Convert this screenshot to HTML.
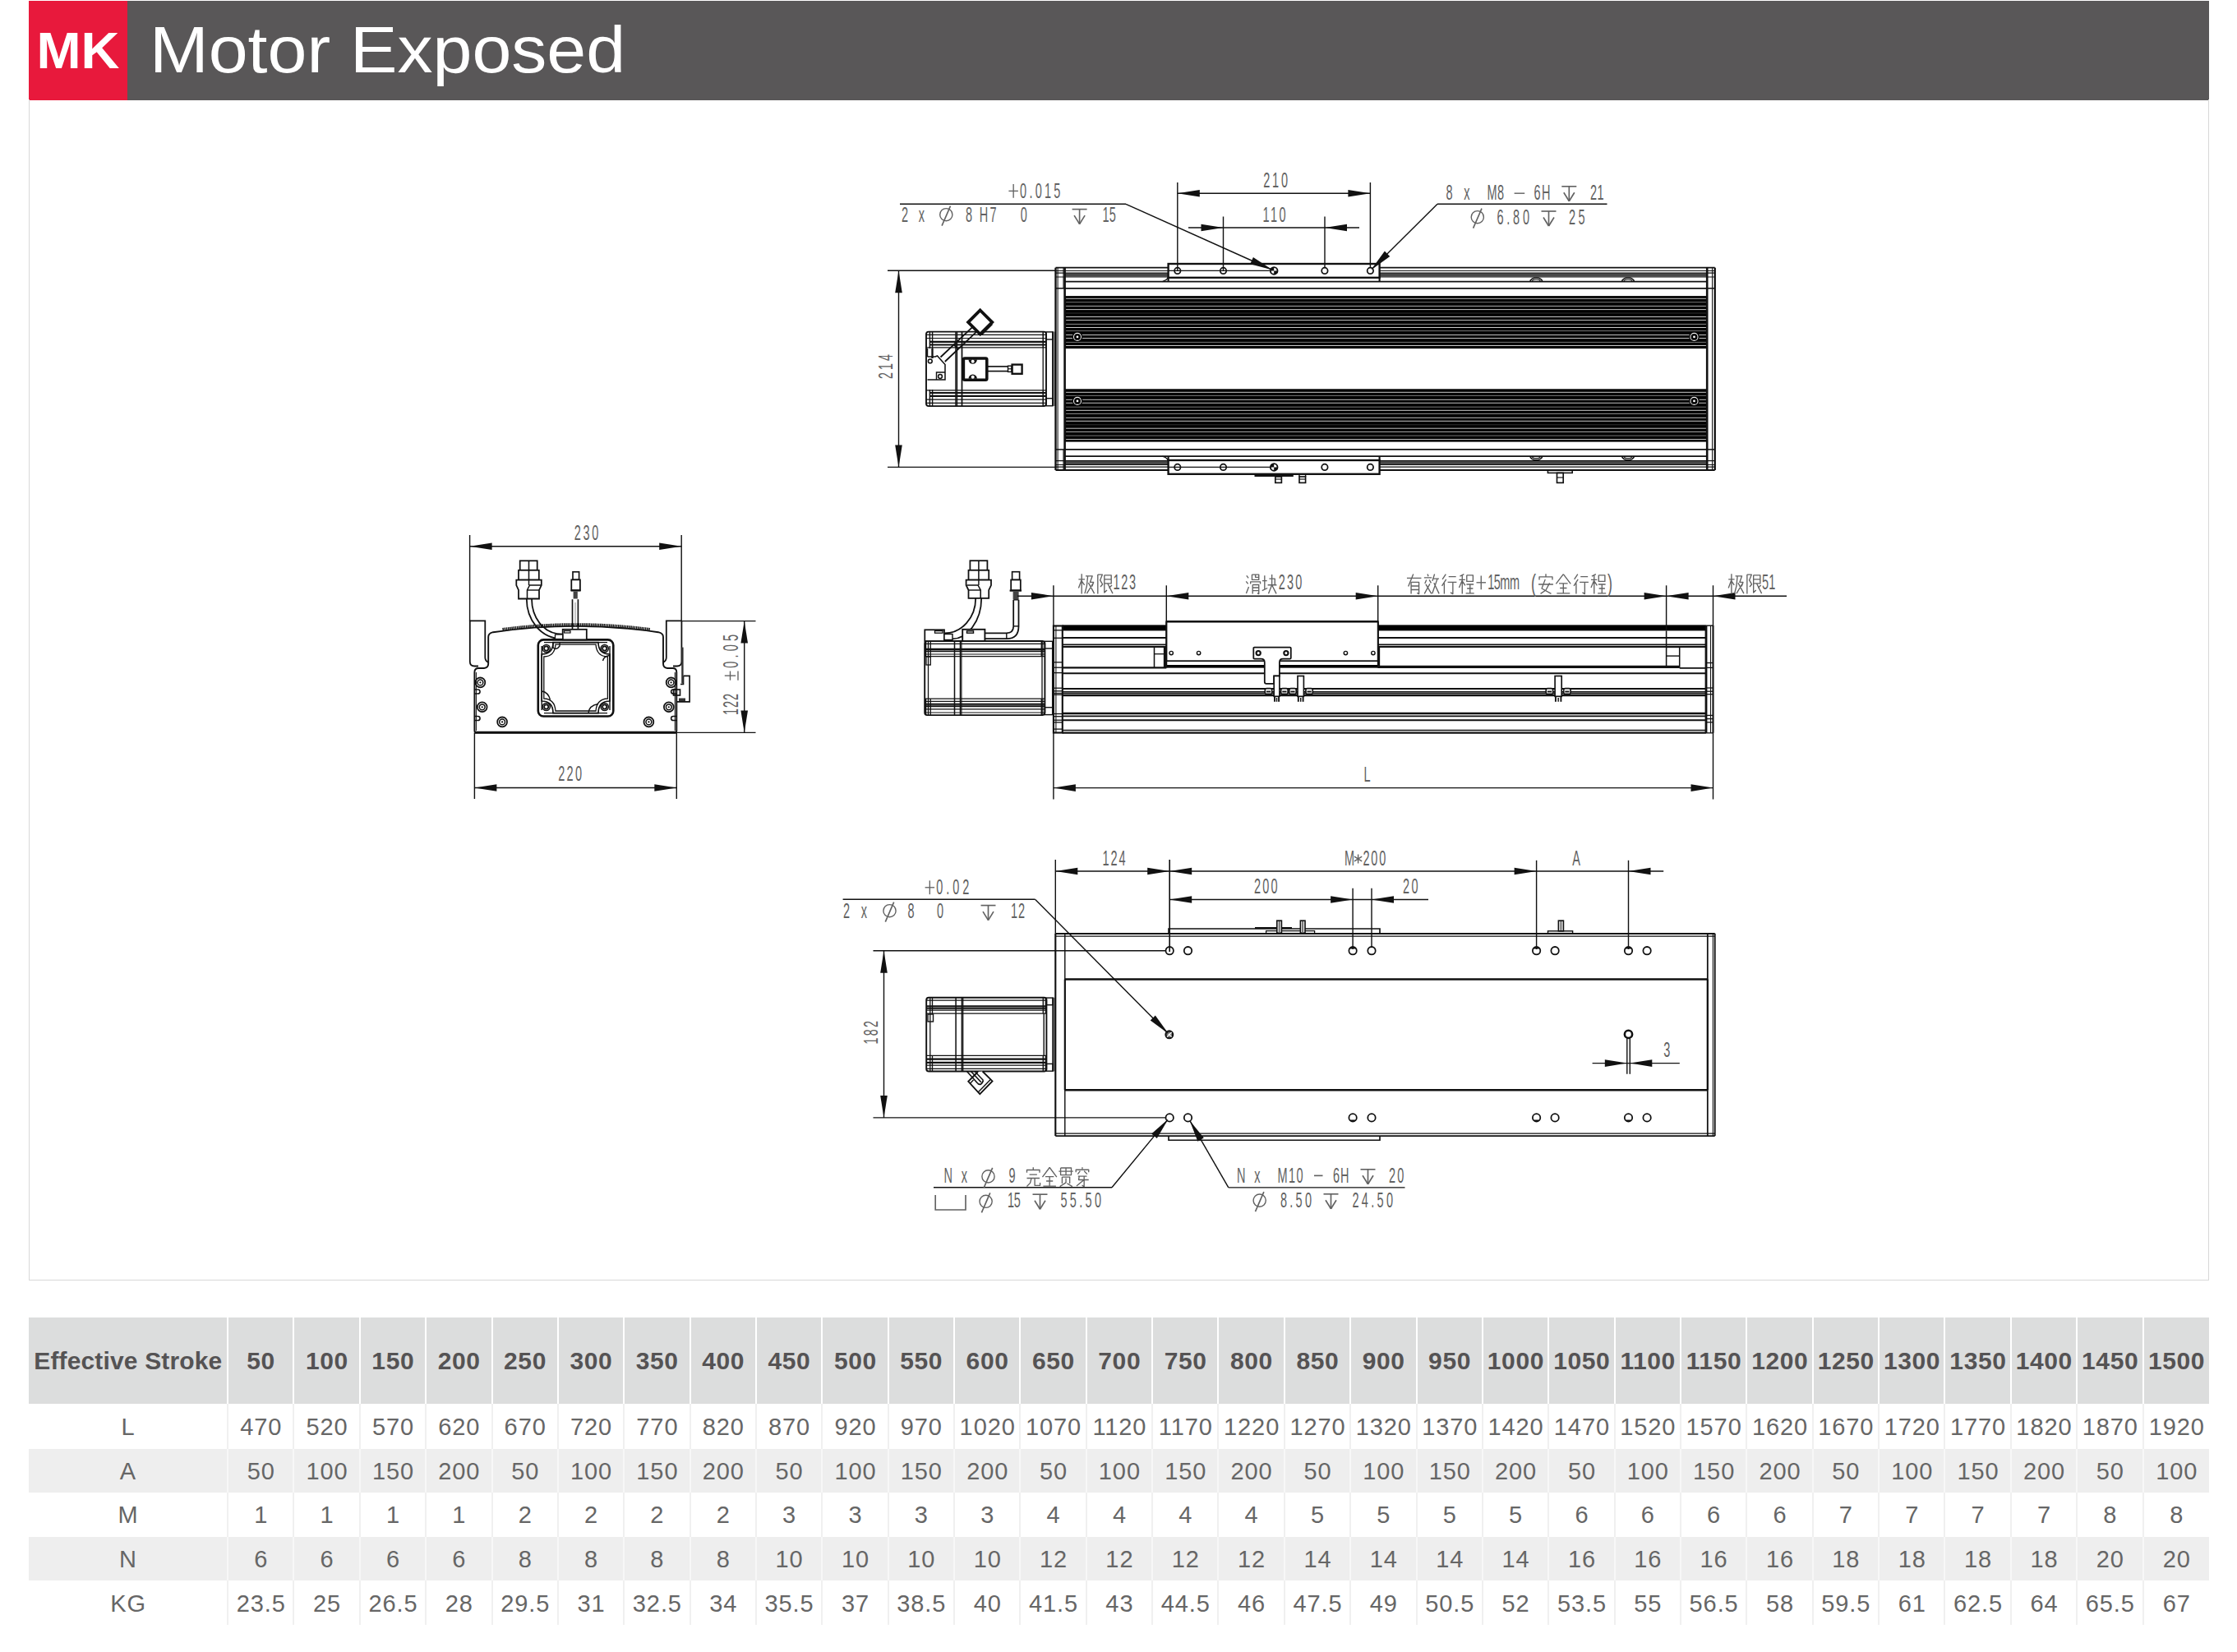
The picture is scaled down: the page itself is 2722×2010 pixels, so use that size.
<!DOCTYPE html>
<html><head><meta charset="utf-8"><title>MK Motor Exposed</title>
<style>
html,body{margin:0;padding:0;background:#fff;}
body{width:2722px;height:2010px;position:relative;overflow:hidden;font-family:"Liberation Sans",sans-serif;}
#hdr{position:absolute;left:35px;top:1px;width:2653px;height:120.6px;background:#595758;}
#mk{position:absolute;left:0;top:0;width:120px;height:120.6px;background:#e8193c;color:#fff;font-weight:bold;font-size:63px;line-height:121px;text-align:center;}
#mk span{display:inline-block;transform:scaleX(1.03);}
#ttl{position:absolute;left:147px;top:0;color:#fff;font-size:79px;line-height:119px;white-space:nowrap;transform:scaleX(1.09);transform-origin:0 0;}
#frame{position:absolute;left:35px;top:121px;width:2651px;height:1436px;border:1px solid #d8d8d8;border-top:none;}
#dwg{position:absolute;left:0;top:0;}
#dwg text{font-family:"Liberation Sans",sans-serif;}
table{position:absolute;left:35px;top:1603px;width:2653px;border-collapse:collapse;table-layout:fixed;}
th,td{padding:0;text-align:center;white-space:nowrap;overflow:visible;border-left:2px solid #fff;}
th{background:#dcdddd;color:#555354;font-size:30px;font-weight:bold;letter-spacing:0.6px;padding:2px 0 0 0.6px;height:102.5px;}
td{height:52.5px;color:#666;font-size:29px;border-left-color:#f0f0f0;letter-spacing:0.9px;padding:2px 0 0 0.9px;}
tr.r0 td{height:53.5px;}
tr.r1 td{height:51.2px;}
tr.r2 td,tr.r3 td{height:51.5px;}
tr.r4 td{height:52px;}
tr.r1 td,tr.r3 td{background:#eeeeee;border-left-color:#f7f7f7;}
th.f,td.f{width:240.5px;border-left:none;}
th.f{letter-spacing:0.15px;}
</style></head><body>
<div id="hdr"><div id="mk"><span>MK</span></div><div id="ttl">Motor Exposed</div></div>
<div id="frame"></div>
<svg id="dwg" width="2722" height="2010" viewBox="0 0 2722 2010">
<rect x="1295.6" y="360.1" width="781.6" height="64" fill="#000"/>
<rect x="1295.6" y="473.3" width="781.6" height="64.3" fill="#000"/>
<path d="M1297.1 363.3L2076.2 363.3" stroke="#e6e6e6" stroke-width="0.85"/>
<path d="M1297.1 534.5L2076.2 534.5" stroke="#e6e6e6" stroke-width="0.85"/>
<path d="M1297.1 367.7L2076.2 367.7" stroke="#8c8c8c" stroke-width="0.85"/>
<path d="M1297.1 530.1L2076.2 530.1" stroke="#8c8c8c" stroke-width="0.85"/>
<path d="M1297.1 372.4L2076.2 372.4" stroke="#cfcfcf" stroke-width="0.85"/>
<path d="M1297.1 525.4L2076.2 525.4" stroke="#cfcfcf" stroke-width="0.85"/>
<path d="M1297.1 376.6L2076.2 376.6" stroke="#e6e6e6" stroke-width="0.85"/>
<path d="M1297.1 521.2L2076.2 521.2" stroke="#e6e6e6" stroke-width="0.85"/>
<path d="M1297.1 381L2076.2 381" stroke="#3a3a3a" stroke-width="0.85"/>
<path d="M1297.1 516.8L2076.2 516.8" stroke="#3a3a3a" stroke-width="0.85"/>
<path d="M1297.1 385.5L2076.2 385.5" stroke="#f0f0f0" stroke-width="0.85"/>
<path d="M1297.1 512.3L2076.2 512.3" stroke="#f0f0f0" stroke-width="0.85"/>
<path d="M1297.1 389.5L2076.2 389.5" stroke="#e0e0e0" stroke-width="0.85"/>
<path d="M1297.1 508.3L2076.2 508.3" stroke="#e0e0e0" stroke-width="0.85"/>
<path d="M1297.1 394.4L2076.2 394.4" stroke="#a8a8a8" stroke-width="0.85"/>
<path d="M1297.1 503.4L2076.2 503.4" stroke="#a8a8a8" stroke-width="0.85"/>
<path d="M1297.1 398.5L2076.2 398.5" stroke="#f0f0f0" stroke-width="0.85"/>
<path d="M1297.1 499.3L2076.2 499.3" stroke="#f0f0f0" stroke-width="0.85"/>
<path d="M1297.1 402.6L2076.2 402.6" stroke="#8c8c8c" stroke-width="0.85"/>
<path d="M1297.1 495.2L2076.2 495.2" stroke="#8c8c8c" stroke-width="0.85"/>
<path d="M1297.1 407.5L2076.2 407.5" stroke="#e6e6e6" stroke-width="0.85"/>
<path d="M1297.1 490.3L2076.2 490.3" stroke="#e6e6e6" stroke-width="0.85"/>
<path d="M1297.1 411.5L2076.2 411.5" stroke="#e6e6e6" stroke-width="0.85"/>
<path d="M1297.1 486.3L2076.2 486.3" stroke="#e6e6e6" stroke-width="0.85"/>
<path d="M1297.1 416.4L2076.2 416.4" stroke="#8c8c8c" stroke-width="0.85"/>
<path d="M1297.1 481.4L2076.2 481.4" stroke="#8c8c8c" stroke-width="0.85"/>
<path d="M1297.1 420.5L2076.2 420.5" stroke="#f0f0f0" stroke-width="0.85"/>
<path d="M1297.1 477.3L2076.2 477.3" stroke="#f0f0f0" stroke-width="0.85"/>
<circle cx="1311" cy="409.9" r="6.3" fill="#000" stroke="none" stroke-width="0"/>
<circle cx="1311" cy="409.9" r="4.5" fill="#000" stroke="#f2f2f2" stroke-width="1.06"/>
<circle cx="1311" cy="409.9" r="1.4" fill="#fff" stroke="none" stroke-width="0"/>
<circle cx="1311" cy="487.9" r="6.3" fill="#000" stroke="none" stroke-width="0"/>
<circle cx="1311" cy="487.9" r="4.5" fill="#000" stroke="#f2f2f2" stroke-width="1.06"/>
<circle cx="1311" cy="487.9" r="1.4" fill="#fff" stroke="none" stroke-width="0"/>
<circle cx="2061.5" cy="409.9" r="6.3" fill="#000" stroke="none" stroke-width="0"/>
<circle cx="2061.5" cy="409.9" r="4.5" fill="#000" stroke="#f2f2f2" stroke-width="1.06"/>
<circle cx="2061.5" cy="409.9" r="1.4" fill="#fff" stroke="none" stroke-width="0"/>
<circle cx="2061.5" cy="487.9" r="6.3" fill="#000" stroke="none" stroke-width="0"/>
<circle cx="2061.5" cy="487.9" r="4.5" fill="#000" stroke="#f2f2f2" stroke-width="1.06"/>
<circle cx="2061.5" cy="487.9" r="1.4" fill="#fff" stroke="none" stroke-width="0"/>
<path d="M1284.5 325.7L2086.7 325.7" stroke="#111" stroke-width="1.77"/>
<path d="M1284.5 572L2086.7 572" stroke="#111" stroke-width="1.77"/>
<rect x="1295.6" y="332.4" width="125.4" height="4.2" fill="#484848"/>
<rect x="1678.6" y="332.4" width="398.6" height="4.2" fill="#484848"/>
<rect x="1295.6" y="561.1" width="125.4" height="4.2" fill="#484848"/>
<rect x="1678.6" y="561.1" width="398.6" height="4.2" fill="#484848"/>
<path d="M1284.5 329.5L1421 329.5" stroke="#111" stroke-width="1.18"/>
<path d="M1678.6 329.5L2086.7 329.5" stroke="#111" stroke-width="1.18"/>
<path d="M1284.5 568.2L1421 568.2" stroke="#111" stroke-width="1.18"/>
<path d="M1678.6 568.2L2086.7 568.2" stroke="#111" stroke-width="1.18"/>
<path d="M1284.5 332.2L1421 332.2" stroke="#111" stroke-width="1.18"/>
<path d="M1678.6 332.2L2086.7 332.2" stroke="#111" stroke-width="1.18"/>
<path d="M1284.5 565.5L1421 565.5" stroke="#111" stroke-width="1.18"/>
<path d="M1678.6 565.5L2086.7 565.5" stroke="#111" stroke-width="1.18"/>
<path d="M1284.5 337L1421 337" stroke="#111" stroke-width="1.18"/>
<path d="M1678.6 337L2086.7 337" stroke="#111" stroke-width="1.18"/>
<path d="M1284.5 560.7L1421 560.7" stroke="#111" stroke-width="1.18"/>
<path d="M1678.6 560.7L2086.7 560.7" stroke="#111" stroke-width="1.18"/>
<path d="M1295.6 342.6L2077.2 342.6" stroke="#111" stroke-width="1.77"/>
<path d="M1295.6 555.1L2077.2 555.1" stroke="#111" stroke-width="1.77"/>
<path d="M1295.6 350.8L2077.2 350.8" stroke="#111" stroke-width="1.77"/>
<path d="M1295.6 546.9L2077.2 546.9" stroke="#111" stroke-width="1.77"/>
<path d="M1284.5 350.8L1295.6 350.8" stroke="#111" stroke-width="1.53"/>
<path d="M1284.5 546.9L1295.6 546.9" stroke="#111" stroke-width="1.53"/>
<path d="M2077.2 350.8L2086.7 350.8" stroke="#111" stroke-width="1.53"/>
<path d="M2077.2 546.9L2086.7 546.9" stroke="#111" stroke-width="1.53"/>
<path d="M1284.5 325.7L1284.5 572" stroke="#111" stroke-width="2.36"/>
<path d="M1287.1 325.7L1287.1 572" stroke="#111" stroke-width="1.06"/>
<path d="M1294 325.7L1294 351" stroke="#111" stroke-width="1.06"/>
<path d="M1294 547L1294 572" stroke="#111" stroke-width="1.06"/>
<path d="M1295.6 325.7L1295.6 572" stroke="#111" stroke-width="2.6"/>
<path d="M2086.7 325.7L2086.7 572" stroke="#111" stroke-width="2.36"/>
<path d="M2083.5 325.7L2083.5 572" stroke="#111" stroke-width="1.06"/>
<path d="M2077.2 325.7L2077.2 572" stroke="#111" stroke-width="2.6"/>
<path d="M1861.9 342.6A7.4 4.6 0 0 1 1876.7 342.6" fill="none" stroke="#111" stroke-width="1.65" />
<path d="M1864.3 342.6A5 2.6 0 0 1 1874.3 342.6" fill="none" stroke="#111" stroke-width="1.18" />
<path d="M1861.9 555.1A7.4 4.6 0 0 0 1876.7 555.1" fill="none" stroke="#111" stroke-width="1.65" />
<path d="M1864.3 555.1A5 2.6 0 0 0 1874.3 555.1" fill="none" stroke="#111" stroke-width="1.18" />
<path d="M1973.6 342.6A7.4 4.6 0 0 1 1988.4 342.6" fill="none" stroke="#111" stroke-width="1.65" />
<path d="M1976 342.6A5 2.6 0 0 1 1986 342.6" fill="none" stroke="#111" stroke-width="1.18" />
<path d="M1973.6 555.1A7.4 4.6 0 0 0 1988.4 555.1" fill="none" stroke="#111" stroke-width="1.65" />
<path d="M1976 555.1A5 2.6 0 0 0 1986 555.1" fill="none" stroke="#111" stroke-width="1.18" />
<path d="M1414.5 342.6Q1419 341.5 1421.4 338.2" fill="none" stroke="#111" stroke-width="1.42" />
<path d="M1414.5 555.1Q1419 556.2 1421.4 559.5" fill="none" stroke="#111" stroke-width="1.42" />
<rect x="1421.6" y="321" width="257" height="16.8" rx="0" fill="#fff" stroke="#111" stroke-width="2.36"/>
<rect x="1421.6" y="560" width="257" height="16.8" rx="0" fill="#fff" stroke="#111" stroke-width="2.36"/>
<path d="M1421.6 337L1421.6 342.6" stroke="#111" stroke-width="2.12"/>
<path d="M1678.6 337L1678.6 342.6" stroke="#111" stroke-width="2.12"/>
<path d="M1421.6 555.1L1421.6 561" stroke="#111" stroke-width="2.12"/>
<path d="M1678.6 555.1L1678.6 561" stroke="#111" stroke-width="2.12"/>
<path d="M1421.6 329.4L1546 329.4" stroke="#111" stroke-width="1.18"/>
<path d="M1421.6 568.4L1546 568.4" stroke="#111" stroke-width="1.18"/>
<circle cx="1432.8" cy="329.4" r="3.7" fill="none" stroke="#111" stroke-width="1.77"/>
<circle cx="1432.8" cy="568.4" r="3.7" fill="none" stroke="#111" stroke-width="1.77"/>
<circle cx="1488.5" cy="329.4" r="3.7" fill="none" stroke="#111" stroke-width="1.77"/>
<circle cx="1488.5" cy="568.4" r="3.7" fill="none" stroke="#111" stroke-width="1.77"/>
<circle cx="1611.9" cy="329.4" r="3.7" fill="none" stroke="#111" stroke-width="1.77"/>
<circle cx="1611.9" cy="568.4" r="3.7" fill="none" stroke="#111" stroke-width="1.77"/>
<circle cx="1667.4" cy="329.4" r="3.7" fill="none" stroke="#111" stroke-width="1.77"/>
<circle cx="1667.4" cy="568.4" r="3.7" fill="none" stroke="#111" stroke-width="1.77"/>
<circle cx="1550.2" cy="329.4" r="4.3" fill="#fff" stroke="#111" stroke-width="1.89"/>
<path d="M1550.2 329.4L1550.2 325.1A4.3 4.3 0 0 0 1545.9 329.4Z" fill="#111" stroke="none" stroke-width="0" />
<path d="M1550.2 329.4L1550.2 333.7A4.3 4.3 0 0 0 1554.5 329.4Z" fill="#111" stroke="none" stroke-width="0" />
<circle cx="1550.2" cy="568.4" r="4.3" fill="#fff" stroke="#111" stroke-width="1.89"/>
<path d="M1550.2 568.4L1550.2 564.1A4.3 4.3 0 0 0 1545.9 568.4Z" fill="#111" stroke="none" stroke-width="0" />
<path d="M1550.2 568.4L1550.2 572.7A4.3 4.3 0 0 0 1554.5 568.4Z" fill="#111" stroke="none" stroke-width="0" />
<path d="M1526.5 578.6L1573.8 578.6" stroke="#111" stroke-width="2.6"/>
<rect x="1551.8" y="580" width="7.6" height="7.4" rx="0" fill="none" stroke="#111" stroke-width="1.65"/>
<path d="M1551.8 583L1559.4 583" stroke="#111" stroke-width="1.18"/>
<rect x="1581" y="580" width="7.6" height="7.4" rx="0" fill="none" stroke="#111" stroke-width="1.65"/>
<path d="M1581 583L1588.6 583" stroke="#111" stroke-width="1.18"/>
<path d="M1581 577L1581 580" stroke="#111" stroke-width="1.42"/>
<path d="M1588.6 577L1588.6 580" stroke="#111" stroke-width="1.42"/>
<rect x="1883.4" y="572.4" width="29.8" height="3" rx="0" fill="none" stroke="#111" stroke-width="1.53"/>
<rect x="1894.5" y="575.4" width="7.7" height="12" rx="0" fill="none" stroke="#111" stroke-width="1.65"/>
<path d="M1894.5 581L1902.2 581" stroke="#111" stroke-width="1.18"/>
<rect x="1127" y="403.6" width="146" height="90.5" rx="3" fill="none" stroke="#111" stroke-width="1.89"/>
<path d="M1127 407.3L1273 407.3" stroke="#111" stroke-width="1.18"/>
<path d="M1127 490.4L1273 490.4" stroke="#111" stroke-width="1.18"/>
<path d="M1127 411.5L1273 411.5" stroke="#111" stroke-width="1.18"/>
<path d="M1127 486.2L1273 486.2" stroke="#111" stroke-width="1.18"/>
<path d="M1127 422.8L1273 422.8" stroke="#111" stroke-width="1.18"/>
<path d="M1127 474.9L1273 474.9" stroke="#111" stroke-width="1.18"/>
<path d="M1131 415.9L1273 415.9" stroke="#111" stroke-width="2.24"/>
<path d="M1131 419.6L1273 419.6" stroke="#111" stroke-width="2.01"/>
<path d="M1131 481.8L1273 481.8" stroke="#111" stroke-width="2.24"/>
<path d="M1131 478.1L1273 478.1" stroke="#111" stroke-width="2.01"/>
<path d="M1131.4 403.6L1131.4 424" stroke="#111" stroke-width="1.42"/>
<path d="M1131.4 474L1131.4 494.1" stroke="#111" stroke-width="1.42"/>
<path d="M1134.6 403.6L1134.6 424" stroke="#111" stroke-width="1.42"/>
<path d="M1134.6 474L1134.6 494.1" stroke="#111" stroke-width="1.42"/>
<path d="M1163 403.6L1163 494.1" stroke="#111" stroke-width="1.53"/>
<path d="M1164.6 403.6L1164.6 494.1" stroke="#111" stroke-width="1.18"/>
<path d="M1170.5 403.6L1170.5 494.1" stroke="#111" stroke-width="1.77"/>
<path d="M1269.2 403.6L1269.2 423" stroke="#111" stroke-width="1.53"/>
<path d="M1269.2 475L1269.2 494.1" stroke="#111" stroke-width="1.53"/>
<path d="M1269.2 423L1269.2 475" stroke="#111" stroke-width="1.3"/>
<rect x="1273" y="403.9" width="8" height="9.1" rx="0" fill="none" stroke="#111" stroke-width="1.42"/>
<rect x="1273" y="484.7" width="8" height="9.1" rx="0" fill="none" stroke="#111" stroke-width="1.42"/>
<path d="M1281 403.6L1281 494.1" stroke="#111" stroke-width="1.89"/>
<path d="M1283.2 403.6L1283.2 494.1" stroke="#111" stroke-width="1.18"/>
<path d="M1128.5 434L1138 434L1140.5 433L1150 443.5L1150 462L1128.5 462" fill="#fff" stroke="#111" stroke-width="1.53" />
<path d="M1128.5 424L1128.5 434" stroke="#111" stroke-width="1.42"/>
<path d="M1134.5 424L1134.5 436" stroke="#111" stroke-width="2.36"/>
<circle cx="1131.8" cy="439.4" r="2.4" fill="none" stroke="#111" stroke-width="1.53"/>
<circle cx="1144" cy="458" r="2.4" fill="none" stroke="#111" stroke-width="1.53"/>
<path d="M1139.5 462L1139.5 453L1150 453" fill="none" stroke="#111" stroke-width="1.42" />
<path d="M1144.5 434.5L1183.4 397.8" stroke="#111" stroke-width="1.77"/>
<path d="M1149.8 440L1188.8 403.2" stroke="#111" stroke-width="1.77"/>
<path d="M1160.5 419.4L1165.9 424.8" stroke="#111" stroke-width="1.53"/>
<path d="M1192.7 377.5L1207.3 392.1L1192.7 406.7L1178.1 392.1Z" fill="#fff" stroke="#111" stroke-width="3.78" />
<path d="M1207.5 394.5L1194.5 407.5" stroke="#111" stroke-width="1.42"/>
<rect x="1172.4" y="436" width="28.4" height="26.3" rx="1.5" fill="#fff" stroke="#111" stroke-width="3.54"/>
<path d="M1178.5 437.5A5.2 5.2 0 0 0 1188.9 437.5Z" fill="#111" stroke="none" stroke-width="0" />
<circle cx="1183.7" cy="439.8" r="2" fill="#fff" stroke="none" stroke-width="0"/>
<path d="M1178.5 460.8A5.2 5.2 0 0 1 1188.9 460.8Z" fill="#111" stroke="none" stroke-width="0" />
<circle cx="1183.7" cy="458.8" r="2" fill="#fff" stroke="none" stroke-width="0"/>
<path d="M1202 445.9L1226.5 445.9" stroke="#111" stroke-width="1.65"/>
<path d="M1202 451.6L1226.5 451.6" stroke="#111" stroke-width="1.65"/>
<rect x="1226.5" y="445.2" width="4.5" height="7.2" rx="0" fill="none" stroke="#111" stroke-width="1.42"/>
<path d="M1226.5 448.8L1231 448.8" stroke="#111" stroke-width="1.18"/>
<rect x="1231.6" y="443.6" width="12" height="11.2" rx="0" fill="none" stroke="#111" stroke-width="2.36"/>
<path d="M1080 329.2L1284.5 329.2" stroke="#111" stroke-width="1.42"/>
<path d="M1080 568.4L1284.5 568.4" stroke="#111" stroke-width="1.42"/>
<path d="M1093.5 329.2L1093.5 568.4" stroke="#111" stroke-width="1.42"/>
<path d="M1093.5 329.2L1097.8 356.2L1089.2 356.2Z" fill="#111"/>
<path d="M1093.5 568.4L1089.2 541.4L1097.8 541.4Z" fill="#111"/>
<text transform="translate(1085.6 461) rotate(-90) scale(0.58 1)" font-size="24.5" fill="#626262" textLength="51.72" lengthAdjust="spacing">214</text>
<path d="M1432.8 222L1432.8 329.4" stroke="#111" stroke-width="1.42"/>
<path d="M1667.4 222L1667.4 325.5" stroke="#111" stroke-width="1.42"/>
<path d="M1432.8 235.2L1667.4 235.2" stroke="#111" stroke-width="1.42"/>
<path d="M1432.8 235.2L1459.8 230.9L1459.8 239.5Z" fill="#111"/>
<path d="M1667.4 235.2L1640.4 239.5L1640.4 230.9Z" fill="#111"/>
<text transform="translate(1537.3 227.8) scale(0.58 1)" font-size="25" fill="#626262" textLength="51.21" lengthAdjust="spacing">210</text>
<path d="M1488.5 263.5L1488.5 329.4" stroke="#111" stroke-width="1.42"/>
<path d="M1612 263.5L1612 325.5" stroke="#111" stroke-width="1.42"/>
<path d="M1446 277L1654 277" stroke="#111" stroke-width="1.42"/>
<path d="M1488.5 277L1461.5 281.3L1461.5 272.7Z" fill="#111"/>
<path d="M1612 277L1639 272.7L1639 281.3Z" fill="#111"/>
<text transform="translate(1536.5 269.5) scale(0.58 1)" font-size="25" fill="#626262" textLength="48.28" lengthAdjust="spacing">110</text>
<path d="M1095 248.3L1370 248.3" stroke="#111" stroke-width="1.42"/>
<path d="M1370 248.3L1546.5 327.6" stroke="#111" stroke-width="1.42"/>
<path d="M1548.6 328.6L1521.22 321.23L1524.91 313.02Z" fill="#111"/>
<path d="M1227.4 232.4L1238.9 232.4" stroke="#626262" stroke-width="1.36"/>
<path d="M1233.15 224L1233.15 240.8" stroke="#626262" stroke-width="1.36"/>
<text transform="translate(1241.1 241) scale(0.58 1)" font-size="25" fill="#626262" textLength="85" lengthAdjust="spacing">0.015</text>
<text transform="translate(1097 270.2) scale(0.58 1)" font-size="25" fill="#626262" textLength="48.28" lengthAdjust="spacing">2 x</text>
<circle cx="1151.3" cy="261.2" r="7.6" fill="none" stroke="#626262" stroke-width="1.4"/>
<path d="M1146.1 274.7L1156.5 250.7" stroke="#626262" stroke-width="1.65"/>
<text transform="translate(1175 270.2) scale(0.58 1)" font-size="25" fill="#626262" textLength="64.83" lengthAdjust="spacing">8 H7</text>
<text transform="translate(1241.7 270.2) scale(0.58 1)" font-size="25" fill="#626262">0</text>
<path d="M1304.6 254.6L1322.6 254.6" stroke="#626262" stroke-width="1.65"/>
<path d="M1313.6 254.6L1313.6 272.6" stroke="#626262" stroke-width="1.65"/>
<path d="M1307.1 262.1L1313.6 272.6" stroke="#626262" stroke-width="1.65"/>
<path d="M1320.1 262.1L1313.6 272.6" stroke="#626262" stroke-width="1.65"/>
<text transform="translate(1341.5 270.2) scale(0.58 1)" font-size="25" fill="#626262" textLength="28.1" lengthAdjust="spacing">15</text>
<path d="M1749 248.3L1955.5 248.3" stroke="#111" stroke-width="1.42"/>
<path d="M1749 248.3L1669.5 327.2" stroke="#111" stroke-width="1.42"/>
<path d="M1668.2 328.5L1684.9 305.58L1691.24 311.96Z" fill="#111"/>
<text transform="translate(1759.6 242.5) scale(0.58 1)" font-size="25" fill="#626262" textLength="49.83" lengthAdjust="spacing">8 x</text>
<text transform="translate(1809.5 242.5) scale(0.58 1)" font-size="25" fill="#626262" textLength="35.34" lengthAdjust="spacing">M8</text>
<path d="M1842.6 235.2L1855.2 235.2" stroke="#626262" stroke-width="1.42"/>
<text transform="translate(1866.5 242.5) scale(0.58 1)" font-size="25" fill="#626262" textLength="34.48" lengthAdjust="spacing">6H</text>
<path d="M1900.3 226.8L1918.3 226.8" stroke="#626262" stroke-width="1.65"/>
<path d="M1909.3 226.8L1909.3 244.8" stroke="#626262" stroke-width="1.65"/>
<path d="M1902.8 234.3L1909.3 244.8" stroke="#626262" stroke-width="1.65"/>
<path d="M1915.8 234.3L1909.3 244.8" stroke="#626262" stroke-width="1.65"/>
<text transform="translate(1935 242.5) scale(0.58 1)" font-size="25" fill="#626262" textLength="28.45" lengthAdjust="spacing">21</text>
<circle cx="1797.8" cy="264.2" r="7.6" fill="none" stroke="#626262" stroke-width="1.4"/>
<path d="M1792.6 277.7L1803 253.7" stroke="#626262" stroke-width="1.65"/>
<text transform="translate(1821.5 272.6) scale(0.58 1)" font-size="25" fill="#626262" textLength="68.1" lengthAdjust="spacing">6.80</text>
<path d="M1875.5 257L1893.5 257" stroke="#626262" stroke-width="1.65"/>
<path d="M1884.5 257L1884.5 275" stroke="#626262" stroke-width="1.65"/>
<path d="M1878 264.5L1884.5 275" stroke="#626262" stroke-width="1.65"/>
<path d="M1891 264.5L1884.5 275" stroke="#626262" stroke-width="1.65"/>
<text transform="translate(1909 272.6) scale(0.58 1)" font-size="25" fill="#626262" textLength="33.62" lengthAdjust="spacing">25</text>
<rect x="1292.5" y="760.4" width="126.8" height="7" fill="#000"/>
<rect x="1676.8" y="760.4" width="399.2" height="7" fill="#000"/>
<path d="M1292.5 775.9L1419.3 775.9" stroke="#111" stroke-width="2.01"/>
<path d="M1676.8 775.9L2076 775.9" stroke="#111" stroke-width="2.01"/>
<path d="M1292.5 784.3L1419.3 784.3" stroke="#111" stroke-width="1.65"/>
<path d="M1676.8 784.3L2076 784.3" stroke="#111" stroke-width="1.65"/>
<path d="M1292.5 786.9L1419.3 786.9" stroke="#111" stroke-width="2.01"/>
<path d="M1676.8 786.9L2076 786.9" stroke="#111" stroke-width="2.01"/>
<path d="M1292.5 812.4L1419.3 812.4" stroke="#111" stroke-width="2.36"/>
<path d="M1676.8 811.4L2043.7 811.4" stroke="#111" stroke-width="3.07"/>
<path d="M2043.7 812.8L2076 812.8" stroke="#111" stroke-width="1.77"/>
<path d="M1292.5 819.2L2076 819.2" stroke="#111" stroke-width="2.01"/>
<path d="M1292.5 838L2076 838" stroke="#111" stroke-width="2.12"/>
<path d="M1292.5 841.7L2076 841.7" stroke="#111" stroke-width="1.53"/>
<path d="M1292.5 843.6L2076 843.6" stroke="#111" stroke-width="1.53"/>
<path d="M1292.5 846L2076 846" stroke="#111" stroke-width="2.71"/>
<path d="M1292.5 868L2076 868" stroke="#111" stroke-width="2.71"/>
<path d="M1292.5 871.4L2076 871.4" stroke="#111" stroke-width="1.65"/>
<path d="M1292.5 876.3L2076 876.3" stroke="#111" stroke-width="1.89"/>
<path d="M1292.5 888.5L2076 888.5" stroke="#111" stroke-width="1.65"/>
<path d="M1292.5 891.6L2076 891.6" stroke="#111" stroke-width="2.36"/>
<rect x="1281.9" y="761.5" width="10.9" height="130" rx="0" fill="none" stroke="#111" stroke-width="2.12"/>
<path d="M1284.9 761.5L1284.9 891.5" stroke="#111" stroke-width="1.06"/>
<path d="M1281.9 766.8L1292.5 766.8" stroke="#111" stroke-width="1.3"/>
<path d="M1281.9 776.3L1292.5 776.3" stroke="#111" stroke-width="1.3"/>
<path d="M1281.9 805.8L1292.5 805.8" stroke="#111" stroke-width="1.3"/>
<path d="M1281.9 812.2L1292.5 812.2" stroke="#111" stroke-width="1.3"/>
<path d="M1281.9 818.6L1292.5 818.6" stroke="#111" stroke-width="1.3"/>
<path d="M1281.9 837.2L1292.5 837.2" stroke="#111" stroke-width="1.3"/>
<path d="M1281.9 840.8L1292.5 840.8" stroke="#111" stroke-width="1.3"/>
<path d="M1281.9 843.5L1292.5 843.5" stroke="#111" stroke-width="1.3"/>
<path d="M1281.9 845.3L1292.5 845.3" stroke="#111" stroke-width="1.3"/>
<path d="M1281.9 868.5L1292.5 868.5" stroke="#111" stroke-width="1.3"/>
<path d="M1281.9 871.7L1292.5 871.7" stroke="#111" stroke-width="1.3"/>
<path d="M1281.9 876.2L1292.5 876.2" stroke="#111" stroke-width="1.3"/>
<path d="M1281.9 878.9L1292.5 878.9" stroke="#111" stroke-width="1.3"/>
<path d="M1281.9 887.1L1292.5 887.1" stroke="#111" stroke-width="1.3"/>
<path d="M2076 761L2076 891.8" stroke="#111" stroke-width="2.83"/>
<path d="M2084.5 761L2084.5 891.8" stroke="#111" stroke-width="1.89"/>
<path d="M2081.5 761L2081.5 891.8" stroke="#111" stroke-width="1.06"/>
<path d="M2076 761.2L2084.5 761.2" stroke="#111" stroke-width="1.42"/>
<path d="M2076 806.5L2084.5 806.5" stroke="#111" stroke-width="1.3"/>
<path d="M2076 812.4L2084.5 812.4" stroke="#111" stroke-width="1.3"/>
<path d="M2076 837L2084.5 837" stroke="#111" stroke-width="1.3"/>
<path d="M2076 841.2L2084.5 841.2" stroke="#111" stroke-width="1.3"/>
<path d="M2076 844.7L2084.5 844.7" stroke="#111" stroke-width="1.3"/>
<path d="M2076 870.4L2084.5 870.4" stroke="#111" stroke-width="1.3"/>
<path d="M2076 874.6L2084.5 874.6" stroke="#111" stroke-width="1.3"/>
<path d="M2076 878.8L2084.5 878.8" stroke="#111" stroke-width="1.3"/>
<path d="M2076 891.8L2084.5 891.8" stroke="#111" stroke-width="1.3"/>
<path d="M1404.5 787.4L1404.5 812.4" stroke="#111" stroke-width="1.53"/>
<path d="M1416.6 787.4L1416.6 812.4" stroke="#111" stroke-width="1.53"/>
<path d="M1404.5 795.7L1416.6 795.7" stroke="#111" stroke-width="1.3"/>
<path d="M2027.6 767.4L2027.6 812.4" stroke="#111" stroke-width="1.53"/>
<path d="M2043.7 787.4L2043.7 812.4" stroke="#111" stroke-width="1.53"/>
<path d="M2027.6 787.4L2043.7 787.4" stroke="#111" stroke-width="1.53"/>
<path d="M2027.6 798.1L2043.7 798.1" stroke="#111" stroke-width="1.42"/>
<rect x="1419.3" y="756.2" width="257.5" height="48" rx="0" fill="#fff" stroke="#111" stroke-width="1.77"/>
<path d="M1419.3 756.2L1676.8 756.2" stroke="#111" stroke-width="2.6"/>
<rect x="1419.3" y="809" width="257.5" height="3.6" fill="#000"/>
<path d="M1419.3 756.2L1419.3 786" stroke="#111" stroke-width="1.89"/>
<path d="M1676.8 756.2L1676.8 786" stroke="#111" stroke-width="1.89"/>
<path d="M1418.6 786L1418.6 812.6" stroke="#111" stroke-width="3.3"/>
<path d="M1677.5 786L1677.5 812.6" stroke="#111" stroke-width="3.3"/>
<circle cx="1425.2" cy="794.6" r="2.2" fill="none" stroke="#111" stroke-width="1.42"/>
<circle cx="1458.6" cy="794.6" r="2.2" fill="none" stroke="#111" stroke-width="1.42"/>
<circle cx="1637.4" cy="794.6" r="2.2" fill="none" stroke="#111" stroke-width="1.42"/>
<circle cx="1670.9" cy="794.6" r="2.2" fill="none" stroke="#111" stroke-width="1.42"/>
<path d="M1526.4 787.6H1569.7Q1570.8 787.6 1570.8 788.8V800.5Q1570.8 801.7 1569.6 801.7H1561Q1556.9 801.7 1556.9 806V822.5H1550.2V831.9H1541Q1538.8 831.9 1538.8 829.8V806Q1538.8 801.7 1534.5 801.7H1526.5Q1525.3 801.7 1525.3 800.5V788.8Q1525.3 787.6 1526.4 787.6Z" fill="#fff" stroke="#111" stroke-width="1.77" />
<circle cx="1531.2" cy="794.6" r="2.6" fill="none" stroke="#111" stroke-width="2.12"/>
<circle cx="1564.9" cy="794.6" r="2.6" fill="none" stroke="#111" stroke-width="2.12"/>
<rect x="1550.2" y="822.5" width="6.7" height="24.8" rx="0" fill="#fff" stroke="#111" stroke-width="1.65"/>
<path d="M1551 847.3L1551 853.8" stroke="#111" stroke-width="1.89"/>
<path d="M1556.1 847.3L1556.1 853.8" stroke="#111" stroke-width="1.89"/>
<path d="M1553.55 849L1553.55 853.8" stroke="#111" stroke-width="1.42"/>
<rect x="1579" y="822.5" width="7.4" height="24.8" rx="0" fill="#fff" stroke="#111" stroke-width="1.65"/>
<path d="M1579.8 847.3L1579.8 853.8" stroke="#111" stroke-width="1.89"/>
<path d="M1585.6 847.3L1585.6 853.8" stroke="#111" stroke-width="1.89"/>
<path d="M1582.7 849L1582.7 853.8" stroke="#111" stroke-width="1.42"/>
<rect x="1892.1" y="822.5" width="8.1" height="24.8" rx="0" fill="#fff" stroke="#111" stroke-width="1.65"/>
<path d="M1892.9 847.3L1892.9 853.8" stroke="#111" stroke-width="1.89"/>
<path d="M1899.4 847.3L1899.4 853.8" stroke="#111" stroke-width="1.89"/>
<path d="M1896.15 849L1896.15 853.8" stroke="#111" stroke-width="1.42"/>
<rect x="1539.3" y="837.6" width="8.4" height="6.8" rx="2" fill="#fff" stroke="#111" stroke-width="1.65"/>
<path d="M1540.9 841.5L1546.1 841.5" stroke="#111" stroke-width="1.89"/>
<rect x="1558.7" y="837.6" width="8.4" height="6.8" rx="2" fill="#fff" stroke="#111" stroke-width="1.65"/>
<path d="M1560.3 841.5L1565.5 841.5" stroke="#111" stroke-width="1.89"/>
<rect x="1568.8" y="837.6" width="8.4" height="6.8" rx="2" fill="#fff" stroke="#111" stroke-width="1.65"/>
<path d="M1570.4 841.5L1575.6 841.5" stroke="#111" stroke-width="1.89"/>
<rect x="1588.9" y="837.6" width="8.4" height="6.8" rx="2" fill="#fff" stroke="#111" stroke-width="1.65"/>
<path d="M1590.5 841.5L1595.7 841.5" stroke="#111" stroke-width="1.89"/>
<rect x="1881.2" y="837.6" width="8.4" height="6.8" rx="2" fill="#fff" stroke="#111" stroke-width="1.65"/>
<path d="M1882.8 841.5L1888 841.5" stroke="#111" stroke-width="1.89"/>
<rect x="1902.7" y="837.6" width="8.4" height="6.8" rx="2" fill="#fff" stroke="#111" stroke-width="1.65"/>
<path d="M1904.3 841.5L1909.5 841.5" stroke="#111" stroke-width="1.89"/>
<rect x="1125.2" y="780" width="146.2" height="90.1" rx="3" fill="none" stroke="#111" stroke-width="1.89"/>
<path d="M1126 783.4L1271.4 783.4" stroke="#111" stroke-width="1.18"/>
<path d="M1126 789.9L1271.4 789.9" stroke="#111" stroke-width="2.12"/>
<path d="M1126 792.4L1271.4 792.4" stroke="#111" stroke-width="1.89"/>
<path d="M1126 796L1271.4 796" stroke="#111" stroke-width="1.18"/>
<path d="M1126 798.7L1271.4 798.7" stroke="#111" stroke-width="1.18"/>
<path d="M1126 850.2L1271.4 850.2" stroke="#111" stroke-width="1.18"/>
<path d="M1126 853.4L1271.4 853.4" stroke="#111" stroke-width="1.18"/>
<path d="M1126 856.7L1271.4 856.7" stroke="#111" stroke-width="2.12"/>
<path d="M1126 859.2L1271.4 859.2" stroke="#111" stroke-width="1.89"/>
<path d="M1126 862.8L1271.4 862.8" stroke="#111" stroke-width="1.18"/>
<path d="M1126 867L1271.4 867" stroke="#111" stroke-width="1.18"/>
<path d="M1126.6 780L1126.6 799" stroke="#111" stroke-width="1.3"/>
<path d="M1126.6 850L1126.6 870" stroke="#111" stroke-width="1.3"/>
<path d="M1129.5 780L1129.5 799" stroke="#111" stroke-width="1.3"/>
<path d="M1129.5 850L1129.5 870" stroke="#111" stroke-width="1.3"/>
<path d="M1132.3 780L1132.3 799" stroke="#111" stroke-width="1.3"/>
<path d="M1132.3 850L1132.3 870" stroke="#111" stroke-width="1.3"/>
<path d="M1129.5 799L1129.5 850" stroke="#111" stroke-width="1.3"/>
<rect x="1127" y="799" width="5.3" height="10" rx="0" fill="none" stroke="#111" stroke-width="1.3"/>
<path d="M1161.5 780L1161.5 870.1" stroke="#111" stroke-width="1.53"/>
<path d="M1168.5 780L1168.5 870.1" stroke="#111" stroke-width="1.53"/>
<path d="M1169.9 780L1169.9 870.1" stroke="#111" stroke-width="1.18"/>
<path d="M1267.3 780L1267.3 799" stroke="#111" stroke-width="1.42"/>
<path d="M1268.8 780L1268.8 799" stroke="#111" stroke-width="1.18"/>
<path d="M1267.3 850L1267.3 870" stroke="#111" stroke-width="1.42"/>
<path d="M1268.8 850L1268.8 870" stroke="#111" stroke-width="1.18"/>
<path d="M1268 799L1268 850" stroke="#111" stroke-width="1.3"/>
<rect x="1271.4" y="780.3" width="9.5" height="8.7" rx="0" fill="none" stroke="#111" stroke-width="1.42"/>
<rect x="1271.4" y="860.7" width="9.5" height="8.9" rx="0" fill="none" stroke="#111" stroke-width="1.42"/>
<path d="M1280.9 780L1280.9 870" stroke="#111" stroke-width="1.89"/>
<path d="M1187.2 727.8C1187.2 752 1170 770.4 1149.5 770.4" fill="none" stroke="#111" stroke-width="1.77" />
<path d="M1194.2 727.8C1194.2 757 1176 777.3 1159 777.3" fill="none" stroke="#111" stroke-width="1.77" />
<rect x="1125.3" y="766.3" width="23.7" height="13.7" rx="0" fill="#fff" stroke="#111" stroke-width="1.77"/>
<rect x="1137.5" y="767.6" width="9.5" height="2.6" rx="0" fill="none" stroke="#111" stroke-width="1.3"/>
<rect x="1149" y="771.5" width="10" height="7" rx="0" fill="#fff" stroke="#111" stroke-width="1.42"/>
<rect x="1171.2" y="765.8" width="27.2" height="14.2" rx="0" fill="#fff" stroke="#111" stroke-width="1.89"/>
<rect x="1176.5" y="767.8" width="8" height="2.4" rx="0" fill="none" stroke="#111" stroke-width="1.42"/>
<rect x="1180.4" y="682.2" width="21" height="11.6" rx="0" fill="#fff" stroke="#111" stroke-width="1.77"/>
<path d="M1190.9 682.2L1190.9 693.8" stroke="#111" stroke-width="1.53"/>
<rect x="1178.5" y="693.8" width="24.7" height="11.8" rx="0" fill="#fff" stroke="#111" stroke-width="1.77"/>
<path d="M1190.9 693.8L1190.9 705.6" stroke="#111" stroke-width="1.53"/>
<path d="M1175.6 705.6L1206 705.6L1206 712L1203.2 718L1203.2 727.8L1178.5 727.8L1178.5 718L1175.6 712Z" fill="#fff" stroke="#111" stroke-width="1.77" />
<path d="M1176.5 712L1190 712L1193.2 718L1193.2 727.8" fill="none" stroke="#111" stroke-width="1.53" />
<path d="M1178.5 718L1193.2 718" stroke="#111" stroke-width="1.42"/>
<path d="M1190.9 705.6L1190.9 712" stroke="#111" stroke-width="1.42"/>
<rect x="1231.6" y="695.7" width="9" height="9.8" rx="0" fill="#fff" stroke="#111" stroke-width="1.65"/>
<rect x="1230.2" y="705.5" width="11.6" height="12.8" rx="0" fill="#fff" stroke="#111" stroke-width="1.77"/>
<path d="M1228.6 718.6L1243 718.6" stroke="#111" stroke-width="2.12"/>
<rect x="1232.6" y="719.5" width="7" height="9.5" fill="#444"/>
<path d="M1233.2 729.8V761.9Q1233.2 770.3 1224.5 770.3H1198.4" fill="none" stroke="#111" stroke-width="1.77" />
<path d="M1239.5 729.8V761.9Q1239.5 777.2 1225 777.2H1198.4" fill="none" stroke="#111" stroke-width="1.77" />
<path d="M1233.2 761.9L1239.5 761.9" stroke="#111" stroke-width="1.42"/>
<path d="M1224.8 770.3L1224.8 777.2" stroke="#111" stroke-width="1.42"/>
<path d="M1233.2 729.8L1239.5 729.8" stroke="#111" stroke-width="1.42"/>
<path d="M1281.9 712.3L1281.9 972.5" stroke="#111" stroke-width="1.42"/>
<path d="M2084.5 712.3L2084.5 972.5" stroke="#111" stroke-width="1.42"/>
<path d="M1419.3 712.3L1419.3 756" stroke="#111" stroke-width="1.42"/>
<path d="M1676.7 712.3L1676.7 756" stroke="#111" stroke-width="1.42"/>
<path d="M2027.6 712.3L2027.6 767" stroke="#111" stroke-width="1.42"/>
<path d="M1238 725.2L2174 725.2" stroke="#111" stroke-width="1.42"/>
<path d="M1281.9 725.2L1254.9 729.5L1254.9 720.9Z" fill="#111"/>
<path d="M1419.3 725.2L1446.3 720.9L1446.3 729.5Z" fill="#111"/>
<path d="M1676.7 725.2L1649.7 729.5L1649.7 720.9Z" fill="#111"/>
<path d="M2027.6 725.2L2000.6 729.5L2000.6 720.9Z" fill="#111"/>
<path d="M2027.6 725.2L2054.6 720.9L2054.6 729.5Z" fill="#111"/>
<path d="M2084.5 725.2L2111.5 720.9L2111.5 729.5Z" fill="#111"/>
<path d="M1281.9 958.6L2084.5 958.6" stroke="#111" stroke-width="1.42"/>
<path d="M1281.9 958.6L1308.9 954.3L1308.9 962.9Z" fill="#111"/>
<path d="M2084.5 958.6L2057.5 962.9L2057.5 954.3Z" fill="#111"/>
<text transform="translate(1659.5 951) scale(0.58 1)" font-size="25" fill="#626262">L</text>
<path d="M1312.4 704.88L1320 704.88M1316.2 698.31L1316.2 722.59M1316.2 705.39L1312.4 715.51M1316.2 706.91L1319.6 711.97M1321 700.84L1329.2 700.84L1326.4 708.43L1330.6 708.43L1328.8 713.49M1323.6 700.84L1322.4 712.98L1320 722.09M1324.4 709.18L1331.6 722.09M1330.6 708.93L1322.4 722.09" fill="none" stroke="#626262" stroke-width="1.35" stroke-linejoin="round"/>
<path d="M1335.8 699.06L1335.8 722.59M1335.8 699.06L1341.4 699.06L1338.6 705.9L1341.6 710.96L1339 713.99M1343.8 699.82L1352.2 699.82L1352.2 709.94L1343.8 709.94M1343.8 704.88L1352.2 704.88M1343.8 699.82L1343.8 721.08L1347 718.04M1347.8 709.94L1354 722.09M1353 711.97L1349.4 715.51" fill="none" stroke="#626262" stroke-width="1.35" stroke-linejoin="round"/>
<text transform="translate(1354.5 717.4) scale(0.58 1)" font-size="25" fill="#626262" textLength="47.41" lengthAdjust="spacing">123</text>
<path d="M1516.8 700.33L1519.14 703.37M1516.26 707.41L1518.6 710.45M1516.44 722.09L1519.5 713.99M1523.46 699.06L1531.74 699.06L1531.74 705.39L1523.46 705.39L1523.46 699.06M1527.6 699.06L1527.6 702.35L1531.74 702.35M1521.66 710.45L1521.66 707.92L1533.54 707.92L1533.54 710.45M1524.18 711.46L1524.18 722.59M1524.18 711.46L1531.74 711.46L1531.74 722.59L1529.94 721.58M1524.18 715L1531.74 715M1524.18 718.55L1531.74 718.55" fill="none" stroke="#626262" stroke-width="1.35" stroke-linejoin="round"/>
<path d="M1535.94 706.65L1541.7 706.65M1538.82 700.33L1538.82 717.03M1535.76 718.55L1542.24 715.51M1544.4 704.12L1551.24 704.12L1551.24 711.71M1542.6 711.71L1553.4 711.71M1547.64 699.06L1547.64 711.71L1543.5 722.34M1547.64 711.71L1553.04 722.34" fill="none" stroke="#626262" stroke-width="1.35" stroke-linejoin="round"/>
<text transform="translate(1555.8 717.4) scale(0.58 1)" font-size="25" fill="#626262" textLength="49.31" lengthAdjust="spacing">230</text>
<path d="M1711.95 703.37L1729.43 703.37M1719.74 698.56L1713.66 713.49M1717.08 708.43L1717.08 722.59M1717.08 708.43L1726.58 708.43L1726.58 722.59L1724.3 721.33M1717.08 712.98L1726.58 712.98M1717.08 717.53L1726.58 717.53" fill="none" stroke="#626262" stroke-width="1.35" stroke-linejoin="round"/>
<path d="M1737.05 698.56L1738 701.34M1732.87 702.86L1742.18 702.86M1735.72 705.39L1733.82 709.94M1739.14 705.39L1741.42 709.44M1739.9 710.45L1733.25 722.34M1734.96 710.96L1741.8 722.34M1745.6 698.56L1742.94 706.91M1744.46 704.12L1750.92 704.12M1749.02 704.12L1742.75 722.34M1744.84 709.18L1751.11 722.34" fill="none" stroke="#626262" stroke-width="1.35" stroke-linejoin="round"/>
<path d="M1759.3 698.56L1755.12 704.88M1759.68 704.88L1754.55 712.98M1757.4 709.44L1757.4 722.59M1762.72 701.59L1771.65 701.59M1761.58 708.43L1772.41 708.43M1767.85 708.43L1767.85 722.59L1765 720.82" fill="none" stroke="#626262" stroke-width="1.35" stroke-linejoin="round"/>
<path d="M1781.36 698.56L1776.42 701.09M1775.47 705.39L1782.88 705.39M1779.27 700.33L1779.27 722.59M1779.27 705.9L1775.47 715M1779.27 706.91L1782.88 712.47M1784.78 699.82L1792.38 699.82L1792.38 707.41L1784.78 707.41L1784.78 699.82M1784.4 710.96L1793.14 710.96M1788.77 710.96L1788.77 721.83M1785.16 716.02L1792.38 716.02M1783.64 721.83L1793.71 721.83" fill="none" stroke="#626262" stroke-width="1.35" stroke-linejoin="round"/>
<path d="M1796.5 708.8L1808 708.8" stroke="#626262" stroke-width="1.36"/>
<path d="M1802.25 700.4L1802.25 717.2" stroke="#626262" stroke-width="1.36"/>
<text transform="translate(1810.2 717.4) scale(0.58 1)" font-size="25" fill="#626262" textLength="66.9" lengthAdjust="spacing">15mm</text>
<text transform="translate(1863 719.5) scale(0.62 1)" font-size="29" fill="#626262">(</text>
<path d="M1881 698.31L1881 701.34M1873.02 705.39L1873.02 701.85L1888.98 701.85L1888.98 705.39M1880.24 704.88L1876.06 716.02L1887.46 722.34M1885.56 709.44L1881 718.04L1874.54 722.34M1872.07 710.96L1889.93 710.96" fill="none" stroke="#626262" stroke-width="1.35" stroke-linejoin="round"/>
<path d="M1902.3 698.56L1893.37 710.45M1902.3 698.56L1911.23 710.45M1896.98 709.94L1907.62 709.94M1902.3 709.94L1902.3 721.83M1898.12 715.51L1906.48 715.51M1894.32 721.83L1910.28 721.83" fill="none" stroke="#626262" stroke-width="1.35" stroke-linejoin="round"/>
<path d="M1919.8 698.56L1915.62 704.88M1920.18 704.88L1915.05 712.98M1917.9 709.44L1917.9 722.59M1923.22 701.59L1932.15 701.59M1922.08 708.43L1932.91 708.43M1928.35 708.43L1928.35 722.59L1925.5 720.82" fill="none" stroke="#626262" stroke-width="1.35" stroke-linejoin="round"/>
<path d="M1941.86 698.56L1936.92 701.09M1935.97 705.39L1943.38 705.39M1939.77 700.33L1939.77 722.59M1939.77 705.9L1935.97 715M1939.77 706.91L1943.38 712.47M1945.28 699.82L1952.88 699.82L1952.88 707.41L1945.28 707.41L1945.28 699.82M1944.9 710.96L1953.64 710.96M1949.27 710.96L1949.27 721.83M1945.66 716.02L1952.88 716.02M1944.14 721.83L1954.21 721.83" fill="none" stroke="#626262" stroke-width="1.35" stroke-linejoin="round"/>
<text transform="translate(1956 719.5) scale(0.62 1)" font-size="29" fill="#626262">)</text>
<path d="M2103.19 704.88L2110.6 704.88M2106.89 698.31L2106.89 722.59M2106.89 705.39L2103.19 715.51M2106.89 706.91L2110.21 711.97M2111.58 700.84L2119.57 700.84L2116.84 708.43L2120.94 708.43L2119.18 713.49M2114.11 700.84L2112.94 712.98L2110.6 722.09M2114.89 709.18L2121.91 722.09M2120.94 708.93L2112.94 722.09" fill="none" stroke="#626262" stroke-width="1.35" stroke-linejoin="round"/>
<path d="M2125.86 699.06L2125.86 722.59M2125.86 699.06L2131.32 699.06L2128.59 705.9L2131.52 710.96L2128.98 713.99M2133.66 699.82L2141.85 699.82L2141.85 709.94L2133.66 709.94M2133.66 704.88L2141.85 704.88M2133.66 699.82L2133.66 721.08L2136.78 718.04M2137.56 709.94L2143.61 722.09M2142.63 711.97L2139.12 715.51" fill="none" stroke="#626262" stroke-width="1.35" stroke-linejoin="round"/>
<text transform="translate(2144 717.4) scale(0.58 1)" font-size="25" fill="#626262" textLength="28.28" lengthAdjust="spacing">51</text>
<path d="M571.6 651L571.6 756" stroke="#111" stroke-width="1.42"/>
<path d="M829.2 651L829.2 756" stroke="#111" stroke-width="1.42"/>
<path d="M571.6 664.8L829.2 664.8" stroke="#111" stroke-width="1.42"/>
<path d="M571.6 664.8L598.6 660.5L598.6 669.1Z" fill="#111"/>
<path d="M829.2 664.8L802.2 669.1L802.2 660.5Z" fill="#111"/>
<text transform="translate(698.8 657) scale(0.58 1)" font-size="25" fill="#626262" textLength="50.69" lengthAdjust="spacing">230</text>
<path d="M577.4 891.4L577.4 972" stroke="#111" stroke-width="1.42"/>
<path d="M823.3 891.4L823.3 972" stroke="#111" stroke-width="1.42"/>
<path d="M577.4 958.5L823.3 958.5" stroke="#111" stroke-width="1.42"/>
<path d="M577.4 958.5L604.4 954.2L604.4 962.8Z" fill="#111"/>
<path d="M823.3 958.5L796.3 962.8L796.3 954.2Z" fill="#111"/>
<text transform="translate(679.2 950.2) scale(0.58 1)" font-size="25" fill="#626262" textLength="49.66" lengthAdjust="spacing">220</text>
<path d="M829.2 755.6L919.5 755.6" stroke="#111" stroke-width="1.42"/>
<path d="M823.3 891.4L919.5 891.4" stroke="#111" stroke-width="1.42"/>
<path d="M905.7 755.6L905.7 891.4" stroke="#111" stroke-width="1.42"/>
<path d="M905.7 755.6L910 782.6L901.4 782.6Z" fill="#111"/>
<path d="M905.7 891.4L901.4 864.4L910 864.4Z" fill="#111"/>
<text transform="translate(897.8 870) rotate(-90) scale(0.58 1)" font-size="25" fill="#626262" textLength="44.83" lengthAdjust="spacing">122</text>
<text transform="translate(897.8 812.8) rotate(-90) scale(0.58 1)" font-size="25" fill="#626262" textLength="70.34" lengthAdjust="spacing">0.05</text>
<path d="M881.8 822.1L895.2 822.1" stroke="#626262" stroke-width="1.36"/>
<path d="M888.5 816.5L888.5 827.7" stroke="#626262" stroke-width="1.36"/>
<path d="M898 816.5L898 827.7" stroke="#626262" stroke-width="1.36"/>
<path d="M571.8 755.4H590.3V800Q590.3 804 594.2 806M571.8 755.4V805Q571.8 810.5 577.5 810.5H582" fill="none" stroke="#111" stroke-width="1.77" />
<path d="M829.4 755.4H810.8V800Q810.8 804 806.9 806M829.4 755.4V805Q829.4 810.5 823.7 810.5H819" fill="none" stroke="#111" stroke-width="1.77" />
<path d="M594.2 807.5V775Q594.2 770.5 600 769.2Q700 754.5 801 769.2Q807 770.5 807 775V807.5Q807 812.5 812 813H818.5Q823.3 813 823.3 818V889Q823.3 891.4 821 891.4H580Q577.4 891.4 577.4 889V818Q577.4 813 582.3 813H589Q594.2 812.5 594.2 807.5Z" fill="none" stroke="#111" stroke-width="1.89" />
<path d="M578 891.2L822.8 891.2" stroke="#111" stroke-width="3.07"/>
<path d="M579.4 818L579.4 889" stroke="#111" stroke-width="1.06"/>
<path d="M821.3 818L821.3 889" stroke="#111" stroke-width="1.06"/>
<path d="M611.5 766.0Q700 754.3 791 766.0" fill="none" stroke="#111" stroke-width="4.01" stroke-dasharray="1.5 0.7"/>
<path d="M577.4 838.9H581.5A2.6 2.6 0 0 1 581.5 844.1H577.4" fill="none" stroke="#111" stroke-width="1.53" />
<path d="M823.3 838.9H819.2A2.6 2.6 0 0 0 819.2 844.1H823.3" fill="none" stroke="#111" stroke-width="1.53" />
<path d="M577.4 871.4H581.5A2.6 2.6 0 0 1 581.5 876.6H577.4" fill="none" stroke="#111" stroke-width="1.53" />
<path d="M823.3 871.4H819.2A2.6 2.6 0 0 0 819.2 876.6H823.3" fill="none" stroke="#111" stroke-width="1.53" />
<circle cx="584.4" cy="830.4" r="5.9" fill="none" stroke="#111" stroke-width="1.77"/>
<circle cx="584.4" cy="830.4" r="3.4" fill="none" stroke="#111" stroke-width="1.53"/>
<circle cx="584.4" cy="830.4" r="1.1" fill="#111" stroke="none" stroke-width="0"/>
<circle cx="586.7" cy="860.3" r="5.9" fill="none" stroke="#111" stroke-width="1.77"/>
<circle cx="586.7" cy="860.3" r="3.4" fill="none" stroke="#111" stroke-width="1.53"/>
<circle cx="586.7" cy="860.3" r="1.1" fill="#111" stroke="none" stroke-width="0"/>
<circle cx="611.1" cy="878.4" r="5.9" fill="none" stroke="#111" stroke-width="1.77"/>
<circle cx="611.1" cy="878.4" r="3.4" fill="none" stroke="#111" stroke-width="1.53"/>
<circle cx="611.1" cy="878.4" r="1.1" fill="#111" stroke="none" stroke-width="0"/>
<circle cx="789.4" cy="878.4" r="5.9" fill="none" stroke="#111" stroke-width="1.77"/>
<circle cx="789.4" cy="878.4" r="3.4" fill="none" stroke="#111" stroke-width="1.53"/>
<circle cx="789.4" cy="878.4" r="1.1" fill="#111" stroke="none" stroke-width="0"/>
<circle cx="816.6" cy="830.4" r="5.9" fill="none" stroke="#111" stroke-width="1.77"/>
<circle cx="816.6" cy="830.4" r="3.4" fill="none" stroke="#111" stroke-width="1.53"/>
<circle cx="816.6" cy="830.4" r="1.1" fill="#111" stroke="none" stroke-width="0"/>
<circle cx="813.8" cy="860.3" r="5.9" fill="none" stroke="#111" stroke-width="1.77"/>
<circle cx="813.8" cy="860.3" r="3.4" fill="none" stroke="#111" stroke-width="1.53"/>
<circle cx="813.8" cy="860.3" r="1.1" fill="#111" stroke="none" stroke-width="0"/>
<rect x="654.8" y="778.4" width="91.5" height="93.1" rx="6.5" fill="none" stroke="#111" stroke-width="2.6"/>
<path d="M673 781.6H728Q728 796 742 796V853Q728 853 728 867.6H673Q673 853 659.2 853V796Q673 796 673 781.6Z" fill="none" stroke="#111" stroke-width="1.65" />
<path d="M676 784.2H725Q726 798.5 739.4 799V850Q726 850.5 725 865H676Q675 850.5 661.8 850V799Q675 798.5 676 784.2Z" fill="none" stroke="#111" stroke-width="1.3" />
<circle cx="664.7" cy="789" r="4.6" fill="#fff" stroke="#111" stroke-width="1.53"/>
<circle cx="664.7" cy="789" r="2.6" fill="none" stroke="#111" stroke-width="1.77"/>
<circle cx="735.7" cy="789" r="4.6" fill="#fff" stroke="#111" stroke-width="1.53"/>
<circle cx="735.7" cy="789" r="2.6" fill="none" stroke="#111" stroke-width="1.77"/>
<circle cx="735.7" cy="860" r="4.6" fill="#fff" stroke="#111" stroke-width="1.53"/>
<circle cx="735.7" cy="860" r="2.6" fill="none" stroke="#111" stroke-width="1.77"/>
<circle cx="664.7" cy="860" r="4.6" fill="#fff" stroke="#111" stroke-width="1.53"/>
<circle cx="664.7" cy="860" r="2.6" fill="none" stroke="#111" stroke-width="1.77"/>
<path d="M673 781.6V788Q677 791.5 681 786V781.6" fill="none" stroke="#111" stroke-width="1.42" />
<path d="M742 797.5Q735 798 733.5 804" fill="none" stroke="#111" stroke-width="1.42" />
<path d="M659.2 841Q667 842 669.5 851.5" fill="none" stroke="#111" stroke-width="1.42" />
<path d="M716 867.6Q716.5 858.5 728 856.5" fill="none" stroke="#111" stroke-width="1.42" />
<path d="M662 781.6L739 781.6" stroke="#111" stroke-width="1.42"/>
<path d="M662 867.6L739 867.6" stroke="#111" stroke-width="1.42"/>
<path d="M659.2 786L659.2 864" stroke="#111" stroke-width="1.42"/>
<path d="M742 786L742 864" stroke="#111" stroke-width="1.42"/>
<rect x="684.7" y="765.8" width="29.1" height="12.5" rx="0" fill="#fff" stroke="#111" stroke-width="1.77"/>
<rect x="686.5" y="767.6" width="7.5" height="2.4" rx="0" fill="none" stroke="#111" stroke-width="1.18"/>
<path d="M640.8 728.5C640.8 752 656 777.2 684.7 777.2" fill="none" stroke="#111" stroke-width="1.77" />
<path d="M647 728.5C647 750 660 771.6 684.7 771.6" fill="none" stroke="#111" stroke-width="1.77" />
<rect x="675.5" y="772" width="9.2" height="5.5" rx="0" fill="#fff" stroke="#111" stroke-width="1.3"/>
<path d="M696.5 729.2L696.5 765.8" stroke="#111" stroke-width="1.65"/>
<path d="M703.4 729.2L703.4 765.8" stroke="#111" stroke-width="1.65"/>
<path d="M700 733L700 762" stroke="#888" stroke-width="0.94"/>
<rect x="632.7" y="682.3" width="21" height="11.5" rx="0" fill="#fff" stroke="#111" stroke-width="1.77"/>
<path d="M643.5 682.3L643.5 693.8" stroke="#111" stroke-width="1.53"/>
<rect x="631" y="693.8" width="24.8" height="11.8" rx="0" fill="#fff" stroke="#111" stroke-width="1.77"/>
<path d="M643.5 693.8L643.5 705.6" stroke="#111" stroke-width="1.53"/>
<path d="M628.3 705.6L658.8 705.6L658.8 712L656 718L656 728.5L631 728.5L631 718L628.3 712Z" fill="#fff" stroke="#111" stroke-width="1.77" />
<path d="M658 712L644.5 712L641.5 718L641.5 728.5" fill="none" stroke="#111" stroke-width="1.53" />
<path d="M641.5 718L656 718" stroke="#111" stroke-width="1.42"/>
<path d="M643.5 705.6L643.5 712" stroke="#111" stroke-width="1.42"/>
<rect x="697" y="695.8" width="7.6" height="9.6" rx="0" fill="#fff" stroke="#111" stroke-width="1.65"/>
<rect x="695.3" y="705.4" width="10.6" height="12.8" rx="0" fill="#fff" stroke="#111" stroke-width="1.77"/>
<path d="M694.6 718.5L706.6 718.5" stroke="#111" stroke-width="2.12"/>
<rect x="697.6" y="719.5" width="5.2" height="9" fill="#444"/>
<path d="M831.5 822.4L839.1 822.4L839.1 853.8L823.8 853.8" fill="none" stroke="#111" stroke-width="1.65" />
<path d="M831.5 822.4L831.5 832.5L828 832.5" fill="none" stroke="#111" stroke-width="1.65" />
<rect x="829.2" y="787.6" width="2.4" height="43.9" fill="#333"/>
<rect x="819.5" y="839" width="8" height="7" rx="0" fill="none" stroke="#111" stroke-width="1.65"/>
<rect x="826" y="849.5" width="8" height="3.5" fill="#333"/>
<path d="M1284.3 1136L2086.7 1136" stroke="#111" stroke-width="1.77"/>
<path d="M1284.3 1139.1L2086.7 1139.1" stroke="#111" stroke-width="1.3"/>
<path d="M1284.3 1382.2L2086.7 1382.2" stroke="#111" stroke-width="1.77"/>
<path d="M1284.3 1379.2L2086.7 1379.2" stroke="#111" stroke-width="1.3"/>
<path d="M1284.3 1135.8L1284.3 1382" stroke="#111" stroke-width="2.12"/>
<path d="M1295.8 1135.8L1295.8 1382" stroke="#111" stroke-width="1.42"/>
<path d="M2086.7 1135.8L2086.7 1382" stroke="#111" stroke-width="1.89"/>
<path d="M2077.8 1135.8L2077.8 1382" stroke="#111" stroke-width="1.77"/>
<path d="M2084.3 1135.8L2084.3 1382" stroke="#111" stroke-width="1.06"/>
<path d="M1295.8 1191.5L2077.8 1191.5" stroke="#111" stroke-width="2.36"/>
<path d="M1295.8 1326.2L2077.8 1326.2" stroke="#111" stroke-width="2.6"/>
<path d="M1295.8 1191.5L1295.8 1326.2" stroke="#111" stroke-width="2.12"/>
<path d="M2077.8 1191.5L2077.8 1326.2" stroke="#111" stroke-width="2.12"/>
<path d="M1422 1135.8L1422 1130L1679 1130L1679 1135.8" fill="none" stroke="#111" stroke-width="1.65" />
<path d="M1422 1382L1422 1387.2L1679 1387.2L1679 1382" fill="none" stroke="#111" stroke-width="1.65" />
<path d="M1527 1129L1572 1129" stroke="#111" stroke-width="2.12"/>
<rect x="1540.6" y="1132.6" width="59" height="3" rx="0" fill="none" stroke="#111" stroke-width="1.3"/>
<rect x="1553.8" y="1120.2" width="5.6" height="15" rx="0" fill="#fff" stroke="#111" stroke-width="1.65"/>
<path d="M1556.6 1121L1556.6 1134" stroke="#555" stroke-width="1.65"/>
<rect x="1582.4" y="1120.2" width="5.6" height="15" rx="0" fill="#fff" stroke="#111" stroke-width="1.65"/>
<path d="M1585.2 1121L1585.2 1134" stroke="#555" stroke-width="1.65"/>
<rect x="1883.5" y="1132.8" width="30.1" height="2.8" rx="0" fill="none" stroke="#111" stroke-width="1.42"/>
<rect x="1896.4" y="1120.2" width="6" height="12.6" rx="0" fill="#fff" stroke="#111" stroke-width="1.65"/>
<path d="M1899.4 1121L1899.4 1132" stroke="#555" stroke-width="1.65"/>
<circle cx="1423.2" cy="1156.7" r="4.7" fill="none" stroke="#111" stroke-width="1.77"/>
<circle cx="1423.2" cy="1359.9" r="4.7" fill="none" stroke="#111" stroke-width="1.77"/>
<circle cx="1445.5" cy="1156.7" r="4.7" fill="none" stroke="#111" stroke-width="1.77"/>
<circle cx="1445.5" cy="1359.9" r="4.7" fill="none" stroke="#111" stroke-width="1.77"/>
<circle cx="1646.1" cy="1156.7" r="4.7" fill="none" stroke="#111" stroke-width="1.77"/>
<circle cx="1646.1" cy="1359.9" r="4.7" fill="none" stroke="#111" stroke-width="1.77"/>
<path d="M1641.9 1154.6A4.7 4.7 0 0 1 1650.3 1154.6Z" fill="#111" stroke="none" stroke-width="0" />
<path d="M1642.1 1362.4A4.7 4.7 0 0 0 1650.1 1362.4Z" fill="#111" stroke="none" stroke-width="0" />
<circle cx="1669" cy="1156.7" r="4.7" fill="none" stroke="#111" stroke-width="1.77"/>
<circle cx="1669" cy="1359.9" r="4.7" fill="none" stroke="#111" stroke-width="1.77"/>
<circle cx="1869.6" cy="1156.7" r="4.7" fill="none" stroke="#111" stroke-width="1.77"/>
<circle cx="1869.6" cy="1359.9" r="4.7" fill="none" stroke="#111" stroke-width="1.77"/>
<path d="M1865.4 1154.6A4.7 4.7 0 0 1 1873.8 1154.6Z" fill="#111" stroke="none" stroke-width="0" />
<path d="M1865.6 1362.4A4.7 4.7 0 0 0 1873.6 1362.4Z" fill="#111" stroke="none" stroke-width="0" />
<circle cx="1892.1" cy="1156.7" r="4.7" fill="none" stroke="#111" stroke-width="1.77"/>
<circle cx="1892.1" cy="1359.9" r="4.7" fill="none" stroke="#111" stroke-width="1.77"/>
<circle cx="1981.5" cy="1156.7" r="4.7" fill="none" stroke="#111" stroke-width="1.77"/>
<circle cx="1981.5" cy="1359.9" r="4.7" fill="none" stroke="#111" stroke-width="1.77"/>
<path d="M1977.3 1154.6A4.7 4.7 0 0 1 1985.7 1154.6Z" fill="#111" stroke="none" stroke-width="0" />
<path d="M1977.5 1362.4A4.7 4.7 0 0 0 1985.5 1362.4Z" fill="#111" stroke="none" stroke-width="0" />
<circle cx="2004.1" cy="1156.7" r="4.7" fill="none" stroke="#111" stroke-width="1.77"/>
<circle cx="2004.1" cy="1359.9" r="4.7" fill="none" stroke="#111" stroke-width="1.77"/>
<circle cx="1422.8" cy="1258.8" r="4.4" fill="#777" stroke="#111" stroke-width="2.12"/>
<path d="M1420 1256L1425.6 1261.6" stroke="#fff" stroke-width="1.18"/>
<path d="M1420 1261.6L1425.6 1256" stroke="#fff" stroke-width="1.18"/>
<circle cx="1981.5" cy="1258.4" r="4.6" fill="#fff" stroke="#111" stroke-width="2.6"/>
<path d="M1979.8 1263.2L1979.8 1306.8" stroke="#111" stroke-width="1.42"/>
<path d="M1983.3 1263.2L1983.3 1306.8" stroke="#111" stroke-width="1.42"/>
<path d="M1937.6 1293.6L2043.8 1293.6" stroke="#111" stroke-width="1.42"/>
<path d="M1979.8 1293.6L1952.8 1297.9L1952.8 1289.3Z" fill="#111"/>
<path d="M1983.3 1293.6L2010.3 1289.3L2010.3 1297.9Z" fill="#111"/>
<text transform="translate(2024.2 1285.6) scale(0.58 1)" font-size="25" fill="#626262">3</text>
<rect x="1127.2" y="1213.8" width="146.2" height="89.7" rx="3" fill="none" stroke="#111" stroke-width="1.89"/>
<path d="M1128 1217.2L1273.4 1217.2" stroke="#111" stroke-width="1.18"/>
<path d="M1128 1224.4L1273.4 1224.4" stroke="#111" stroke-width="2.24"/>
<path d="M1128 1226.8L1273.4 1226.8" stroke="#111" stroke-width="1.77"/>
<path d="M1128 1229.2L1273.4 1229.2" stroke="#111" stroke-width="1.18"/>
<path d="M1128 1233.1L1273.4 1233.1" stroke="#111" stroke-width="1.42"/>
<path d="M1128 1284.4L1273.4 1284.4" stroke="#111" stroke-width="1.42"/>
<path d="M1128 1288.6L1273.4 1288.6" stroke="#111" stroke-width="2.12"/>
<path d="M1128 1292.8L1273.4 1292.8" stroke="#111" stroke-width="2.24"/>
<path d="M1128 1296.2L1273.4 1296.2" stroke="#111" stroke-width="1.18"/>
<path d="M1128 1300.3L1273.4 1300.3" stroke="#111" stroke-width="1.18"/>
<path d="M1131.8 1213.8L1131.8 1234" stroke="#111" stroke-width="1.3"/>
<path d="M1131.8 1284L1131.8 1303.5" stroke="#111" stroke-width="1.3"/>
<path d="M1134.5 1213.8L1134.5 1234" stroke="#111" stroke-width="1.3"/>
<path d="M1134.5 1284L1134.5 1303.5" stroke="#111" stroke-width="1.3"/>
<path d="M1131.8 1234L1131.8 1284" stroke="#111" stroke-width="1.3"/>
<rect x="1129" y="1234" width="6.5" height="9" rx="0" fill="none" stroke="#111" stroke-width="1.42"/>
<path d="M1163.1 1213.8L1163.1 1303.5" stroke="#111" stroke-width="1.53"/>
<path d="M1170.4 1213.8L1170.4 1303.5" stroke="#111" stroke-width="1.53"/>
<path d="M1171.8 1213.8L1171.8 1303.5" stroke="#111" stroke-width="1.18"/>
<path d="M1269.3 1213.8L1269.3 1233" stroke="#111" stroke-width="1.42"/>
<path d="M1269.3 1284.4L1269.3 1303.5" stroke="#111" stroke-width="1.42"/>
<path d="M1270.2 1233L1270.2 1284.4" stroke="#111" stroke-width="1.42"/>
<path d="M1272.2 1213.8L1272.2 1233" stroke="#111" stroke-width="1.18"/>
<path d="M1272.2 1284.4L1272.2 1303.5" stroke="#111" stroke-width="1.18"/>
<rect x="1273.4" y="1214.1" width="7.7" height="8.6" rx="0" fill="none" stroke="#111" stroke-width="1.42"/>
<rect x="1273.4" y="1294.4" width="7.7" height="8.8" rx="0" fill="none" stroke="#111" stroke-width="1.42"/>
<path d="M1281.1 1213.8L1281.1 1303.5" stroke="#111" stroke-width="1.65"/>
<path d="M1283 1213.8L1283 1303.5" stroke="#111" stroke-width="1.18"/>
<path d="M1195.5 1303.5L1207.6 1315.4L1192.3 1331.2L1178.2 1315.8L1190 1304" fill="#fff" stroke="#111" stroke-width="1.77" />
<path d="M1205.5 1313.2L1190.6 1328.4" stroke="#111" stroke-width="1.42"/>
<path d="M1176.5 1303.5L1190 1318.5" stroke="#111" stroke-width="1.65"/>
<path d="M1181.5 1303.5L1193.8 1316.8" stroke="#111" stroke-width="1.65"/>
<path d="M1186 1303.5L1196.5 1314.5" stroke="#111" stroke-width="1.42"/>
<path d="M1190 1318.5Q1194 1321.5 1196.5 1314.5" fill="none" stroke="#111" stroke-width="1.89" />
<path d="M1180.4 1318.2L1184.5 1314" stroke="#111" stroke-width="1.42"/>
<path d="M1062.5 1156.7L1418.5 1156.7" stroke="#111" stroke-width="1.42"/>
<path d="M1062.5 1359.9L1418.5 1359.9" stroke="#111" stroke-width="1.42"/>
<path d="M1075.5 1156.7L1075.5 1359.9" stroke="#111" stroke-width="1.42"/>
<path d="M1075.5 1156.7L1079.8 1183.7L1071.2 1183.7Z" fill="#111"/>
<path d="M1075.5 1359.9L1071.2 1332.9L1079.8 1332.9Z" fill="#111"/>
<text transform="translate(1067.6 1270.6) rotate(-90) scale(0.58 1)" font-size="24.5" fill="#626262" textLength="48.97" lengthAdjust="spacing">182</text>
<path d="M1284.3 1046L1284.3 1135.8" stroke="#111" stroke-width="1.42"/>
<path d="M1423.2 1046L1423.2 1158" stroke="#111" stroke-width="1.65"/>
<path d="M1869.6 1046.8L1869.6 1155" stroke="#111" stroke-width="1.42"/>
<path d="M1981.5 1046.8L1981.5 1155" stroke="#111" stroke-width="1.42"/>
<path d="M1284.3 1060L2024.2 1060" stroke="#111" stroke-width="1.42"/>
<path d="M1284.3 1060L1311.3 1055.7L1311.3 1064.3Z" fill="#111"/>
<path d="M1423.2 1060L1396.2 1064.3L1396.2 1055.7Z" fill="#111"/>
<path d="M1423.2 1060L1450.2 1055.7L1450.2 1064.3Z" fill="#111"/>
<path d="M1869.6 1060L1842.6 1064.3L1842.6 1055.7Z" fill="#111"/>
<path d="M1981.5 1060L2008.5 1055.7L2008.5 1064.3Z" fill="#111"/>
<text transform="translate(1341.5 1052.6) scale(0.58 1)" font-size="25" fill="#626262" textLength="48.45" lengthAdjust="spacing">124</text>
<text transform="translate(1636 1053) scale(0.58 1)" font-size="25" fill="#626262">M</text>
<path d="M1652.6 1039.5V1050.5M1648 1042.2L1657.2 1047.8M1657.2 1042.2L1648 1047.8" fill="none" stroke="#626262" stroke-width="1.42" />
<text transform="translate(1658.5 1053) scale(0.58 1)" font-size="25" fill="#626262" textLength="47.76" lengthAdjust="spacing">200</text>
<text transform="translate(1913.2 1053) scale(0.58 1)" font-size="25" fill="#626262">A</text>
<path d="M1646.1 1080.8L1646.1 1155" stroke="#111" stroke-width="1.42"/>
<path d="M1669 1080.8L1669 1152" stroke="#111" stroke-width="1.42"/>
<path d="M1423.2 1094.5L1738 1094.5" stroke="#111" stroke-width="1.42"/>
<path d="M1423.2 1094.5L1450.2 1090.2L1450.2 1098.8Z" fill="#111"/>
<path d="M1646.1 1094.5L1619.1 1098.8L1619.1 1090.2Z" fill="#111"/>
<path d="M1669 1094.5L1696 1090.2L1696 1098.8Z" fill="#111"/>
<text transform="translate(1526 1087.4) scale(0.58 1)" font-size="25" fill="#626262" textLength="49.31" lengthAdjust="spacing">200</text>
<text transform="translate(1707 1087.4) scale(0.58 1)" font-size="25" fill="#626262" textLength="32.07" lengthAdjust="spacing">20</text>
<path d="M1025.6 1094.2L1259.5 1094.2" stroke="#111" stroke-width="1.42"/>
<path d="M1259.5 1094.2L1421.5 1257.4" stroke="#111" stroke-width="1.42"/>
<path d="M1421.8 1257.7L1399.72 1241.57L1405.83 1235.51Z" fill="#111"/>
<path d="M1125.6 1079.8L1137.1 1079.8" stroke="#626262" stroke-width="1.36"/>
<path d="M1131.35 1071.4L1131.35 1088.2" stroke="#626262" stroke-width="1.36"/>
<text transform="translate(1139.3 1088.4) scale(0.58 1)" font-size="25" fill="#626262" textLength="69.14" lengthAdjust="spacing">0.02</text>
<text transform="translate(1026 1117.4) scale(0.58 1)" font-size="25" fill="#626262" textLength="50" lengthAdjust="spacing">2 x</text>
<circle cx="1082.5" cy="1108.2" r="7.6" fill="none" stroke="#626262" stroke-width="1.4"/>
<path d="M1077.3 1121.7L1087.7 1097.7" stroke="#626262" stroke-width="1.65"/>
<text transform="translate(1104.5 1117.4) scale(0.58 1)" font-size="25" fill="#626262">8</text>
<text transform="translate(1140 1117.4) scale(0.58 1)" font-size="25" fill="#626262">0</text>
<path d="M1193.5 1101.6L1211.5 1101.6" stroke="#626262" stroke-width="1.65"/>
<path d="M1202.5 1101.6L1202.5 1119.6" stroke="#626262" stroke-width="1.65"/>
<path d="M1196 1109.1L1202.5 1119.6" stroke="#626262" stroke-width="1.65"/>
<path d="M1209 1109.1L1202.5 1119.6" stroke="#626262" stroke-width="1.65"/>
<text transform="translate(1230 1117.4) scale(0.58 1)" font-size="25" fill="#626262" textLength="29.31" lengthAdjust="spacing">12</text>
<path d="M1136 1444.8L1353 1444.8" stroke="#111" stroke-width="1.42"/>
<path d="M1353 1444.8L1420.6 1362.6" stroke="#111" stroke-width="1.42"/>
<path d="M1421.6 1361.4L1407.79 1384.99L1401.14 1379.53Z" fill="#111"/>
<text transform="translate(1148.5 1438.8) scale(0.58 1)" font-size="25" fill="#626262" textLength="49.14" lengthAdjust="spacing">N x</text>
<circle cx="1202.5" cy="1431.4" r="7.6" fill="none" stroke="#626262" stroke-width="1.4"/>
<path d="M1197.3 1444.9L1207.7 1420.9" stroke="#626262" stroke-width="1.65"/>
<text transform="translate(1227.5 1438.8) scale(0.58 1)" font-size="25" fill="#626262">9</text>
<path d="M1257.25 1420.29L1257.25 1422.74M1249.48 1426.66L1249.48 1423.47L1265.02 1423.47L1265.02 1426.66M1252.62 1429.11L1261.88 1429.11M1249.48 1433.52L1265.02 1433.52M1255.03 1433.52L1253.55 1439.4L1249.48 1443.57M1259.1 1433.52L1259.1 1442.34L1265.58 1442.34L1265.58 1438.91" fill="none" stroke="#626262" stroke-width="1.35" stroke-linejoin="round"/>
<path d="M1277.15 1420.53L1268.46 1432.05M1277.15 1420.53L1285.85 1432.05M1271.97 1431.56L1282.33 1431.56M1277.15 1431.56L1277.15 1443.08M1273.08 1436.95L1281.22 1436.95M1269.38 1443.08L1284.92 1443.08" fill="none" stroke="#626262" stroke-width="1.35" stroke-linejoin="round"/>
<path d="M1290.58 1421.02L1303.52 1421.02L1303.52 1429.6L1290.58 1429.6L1290.58 1421.02M1288.36 1425.19L1305.74 1425.19M1297.05 1421.02L1297.05 1429.6M1292.42 1432.05L1292.42 1439.89M1292.42 1432.05L1301.67 1432.05L1301.67 1439.89M1297.05 1433.52L1297.05 1438.91L1289.65 1443.57M1298.53 1439.89L1304.82 1443.57" fill="none" stroke="#626262" stroke-width="1.35" stroke-linejoin="round"/>
<path d="M1316.95 1420.29L1316.95 1422.25M1309.18 1426.17L1309.18 1423.23L1324.72 1423.23L1324.72 1426.17M1314.36 1424.7L1311.4 1428.62M1319.17 1424.7L1322.87 1428.62M1311.77 1431.07L1322.5 1431.07M1313.25 1431.07L1312.51 1435.48L1324.72 1435.48M1319.17 1431.07L1319.17 1443.57L1316.58 1442.1M1318.43 1435.97L1309.92 1443.08" fill="none" stroke="#626262" stroke-width="1.35" stroke-linejoin="round"/>
<path d="M1138.2 1454L1138.2 1472L1175 1472L1175 1454" fill="none" stroke="#626262" stroke-width="1.65" />
<circle cx="1199.6" cy="1461.8" r="7.6" fill="none" stroke="#626262" stroke-width="1.4"/>
<path d="M1194.4 1475.3L1204.8 1451.3" stroke="#626262" stroke-width="1.65"/>
<text transform="translate(1226 1469.3) scale(0.58 1)" font-size="25" fill="#626262" textLength="27.24" lengthAdjust="spacing">15</text>
<path d="M1256.5 1453.2L1274.5 1453.2" stroke="#626262" stroke-width="1.65"/>
<path d="M1265.5 1453.2L1265.5 1471.2" stroke="#626262" stroke-width="1.65"/>
<path d="M1259 1460.7L1265.5 1471.2" stroke="#626262" stroke-width="1.65"/>
<path d="M1272 1460.7L1265.5 1471.2" stroke="#626262" stroke-width="1.65"/>
<text transform="translate(1290.5 1469.3) scale(0.58 1)" font-size="25" fill="#626262" textLength="85.34" lengthAdjust="spacing">55.50</text>
<path d="M1494.8 1444.9L1709.5 1444.9" stroke="#111" stroke-width="1.42"/>
<path d="M1494.8 1444.9L1448.2 1364.2" stroke="#111" stroke-width="1.42"/>
<path d="M1447.6 1363.2L1464.82 1384.43L1457.38 1388.73Z" fill="#111"/>
<text transform="translate(1505 1438.6) scale(0.58 1)" font-size="25" fill="#626262" textLength="49.14" lengthAdjust="spacing">N x</text>
<text transform="translate(1554.5 1438.6) scale(0.58 1)" font-size="25" fill="#626262" textLength="53.45" lengthAdjust="spacing">M10</text>
<path d="M1599 1430.4L1609.5 1430.4" stroke="#626262" stroke-width="1.65"/>
<text transform="translate(1622 1438.6) scale(0.58 1)" font-size="25" fill="#626262" textLength="33.62" lengthAdjust="spacing">6H</text>
<path d="M1655.5 1422.8L1673.5 1422.8" stroke="#626262" stroke-width="1.65"/>
<path d="M1664.5 1422.8L1664.5 1440.8" stroke="#626262" stroke-width="1.65"/>
<path d="M1658 1430.3L1664.5 1440.8" stroke="#626262" stroke-width="1.65"/>
<path d="M1671 1430.3L1664.5 1440.8" stroke="#626262" stroke-width="1.65"/>
<text transform="translate(1690 1438.6) scale(0.58 1)" font-size="25" fill="#626262" textLength="31.72" lengthAdjust="spacing">20</text>
<circle cx="1532.7" cy="1460.6" r="7.6" fill="none" stroke="#626262" stroke-width="1.4"/>
<path d="M1527.5 1474.1L1537.9 1450.1" stroke="#626262" stroke-width="1.65"/>
<text transform="translate(1558 1469.2) scale(0.58 1)" font-size="25" fill="#626262" textLength="65.52" lengthAdjust="spacing">8.50</text>
<path d="M1610.5 1452.8L1628.5 1452.8" stroke="#626262" stroke-width="1.65"/>
<path d="M1619.5 1452.8L1619.5 1470.8" stroke="#626262" stroke-width="1.65"/>
<path d="M1613 1460.3L1619.5 1470.8" stroke="#626262" stroke-width="1.65"/>
<path d="M1626 1460.3L1619.5 1470.8" stroke="#626262" stroke-width="1.65"/>
<text transform="translate(1645.5 1469.2) scale(0.58 1)" font-size="25" fill="#626262" textLength="85.34" lengthAdjust="spacing">24.50</text>
</svg>
<table><tr class="h"><th class="f">Effective Stroke</th><th>50</th><th>100</th><th>150</th><th>200</th><th>250</th><th>300</th><th>350</th><th>400</th><th>450</th><th>500</th><th>550</th><th>600</th><th>650</th><th>700</th><th>750</th><th>800</th><th>850</th><th>900</th><th>950</th><th>1000</th><th>1050</th><th>1100</th><th>1150</th><th>1200</th><th>1250</th><th>1300</th><th>1350</th><th>1400</th><th>1450</th><th>1500</th></tr>
<tr class="r0"><td class="f">L</td><td>470</td><td>520</td><td>570</td><td>620</td><td>670</td><td>720</td><td>770</td><td>820</td><td>870</td><td>920</td><td>970</td><td>1020</td><td>1070</td><td>1120</td><td>1170</td><td>1220</td><td>1270</td><td>1320</td><td>1370</td><td>1420</td><td>1470</td><td>1520</td><td>1570</td><td>1620</td><td>1670</td><td>1720</td><td>1770</td><td>1820</td><td>1870</td><td>1920</td></tr>
<tr class="r1"><td class="f">A</td><td>50</td><td>100</td><td>150</td><td>200</td><td>50</td><td>100</td><td>150</td><td>200</td><td>50</td><td>100</td><td>150</td><td>200</td><td>50</td><td>100</td><td>150</td><td>200</td><td>50</td><td>100</td><td>150</td><td>200</td><td>50</td><td>100</td><td>150</td><td>200</td><td>50</td><td>100</td><td>150</td><td>200</td><td>50</td><td>100</td></tr>
<tr class="r2"><td class="f">M</td><td>1</td><td>1</td><td>1</td><td>1</td><td>2</td><td>2</td><td>2</td><td>2</td><td>3</td><td>3</td><td>3</td><td>3</td><td>4</td><td>4</td><td>4</td><td>4</td><td>5</td><td>5</td><td>5</td><td>5</td><td>6</td><td>6</td><td>6</td><td>6</td><td>7</td><td>7</td><td>7</td><td>7</td><td>8</td><td>8</td></tr>
<tr class="r3"><td class="f">N</td><td>6</td><td>6</td><td>6</td><td>6</td><td>8</td><td>8</td><td>8</td><td>8</td><td>10</td><td>10</td><td>10</td><td>10</td><td>12</td><td>12</td><td>12</td><td>12</td><td>14</td><td>14</td><td>14</td><td>14</td><td>16</td><td>16</td><td>16</td><td>16</td><td>18</td><td>18</td><td>18</td><td>18</td><td>20</td><td>20</td></tr>
<tr class="r4"><td class="f">KG</td><td>23.5</td><td>25</td><td>26.5</td><td>28</td><td>29.5</td><td>31</td><td>32.5</td><td>34</td><td>35.5</td><td>37</td><td>38.5</td><td>40</td><td>41.5</td><td>43</td><td>44.5</td><td>46</td><td>47.5</td><td>49</td><td>50.5</td><td>52</td><td>53.5</td><td>55</td><td>56.5</td><td>58</td><td>59.5</td><td>61</td><td>62.5</td><td>64</td><td>65.5</td><td>67</td></tr>
</table>
</body></html>
